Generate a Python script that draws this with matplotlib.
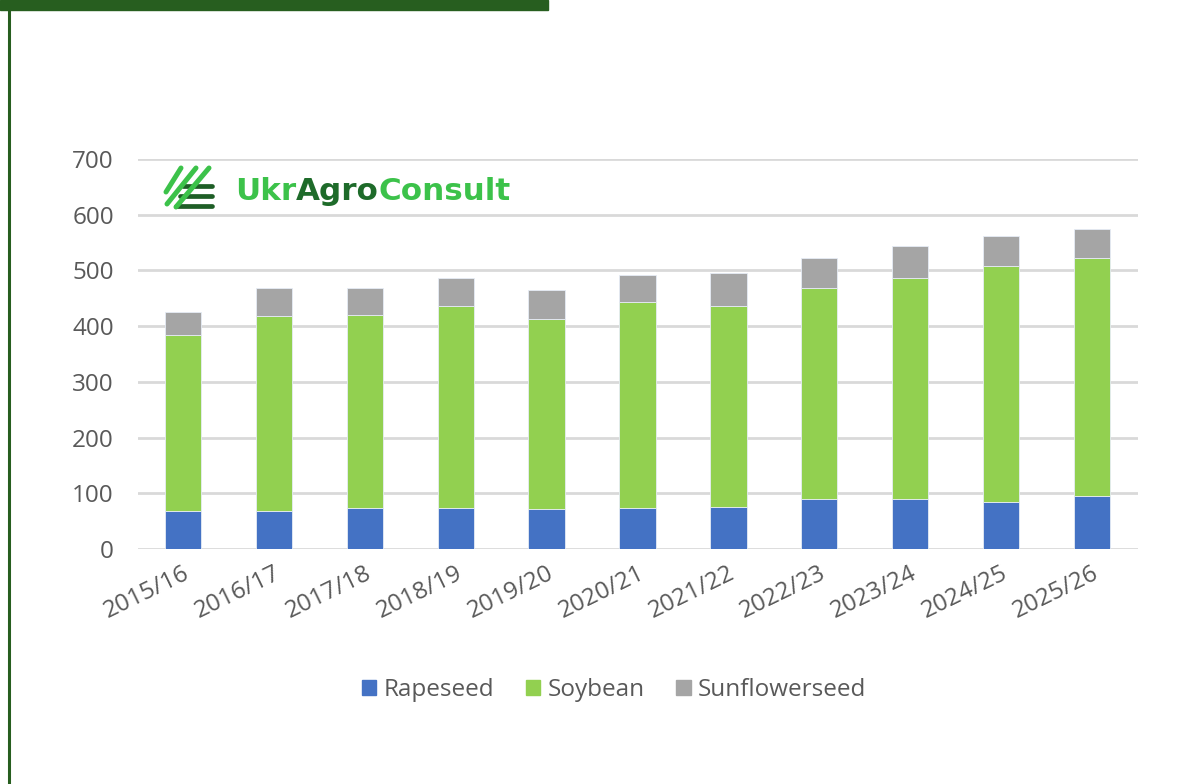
import matplotlib
matplotlib.use("Agg")
import matplotlib.pyplot as plt
from matplotlib.lines import Line2D
from matplotlib.patches import Rectangle
from matplotlib.font_manager import FontProperties
import numpy as np

categories = ["2015/16", "2016/17", "2017/18", "2018/19", "2019/20", "2020/21",
              "2021/22", "2022/23", "2023/24", "2024/25", "2025/26"]
rapeseed = [68, 68, 73, 73, 71, 73, 76, 90, 90, 84, 95]
soybean = [317, 351, 347, 363, 341, 371, 360, 378, 397, 424, 427]
sunflowerseed = [40, 50, 48, 50, 53, 48, 59, 54, 56, 54, 53]
series_names = ["Rapeseed", "Soybean", "Sunflowerseed"]
y_ticks = [0, 100, 200, 300, 400, 500, 600, 700]

W, H = 1196, 784
FONT = ["Open Sans", "DejaVu Sans"]
plt.rcParams["font.family"] = FONT
TXT = "#595959"
FS = 17.5

fig = plt.figure(figsize=(W / 100, H / 100), dpi=100)
fig.patch.set_facecolor("white")

def fx(x):
    return x / W

def fy(y):
    return 1 - y / H

ax = fig.add_axes([fx(137.5), fy(549), fx(1137.5) - fx(137.5), fy(159) - fy(549)])
x = np.arange(len(categories))
colors = ["#4472C4", "#92D050", "#A5A5A5"]
bottom = np.zeros(len(categories))
for vals, name, c in zip([rapeseed, soybean, sunflowerseed], series_names, colors):
    ax.bar(x, vals, width=0.4, bottom=bottom, color=c, label=name,
           edgecolor="#E6ECF5", linewidth=0.6, zorder=3)
    bottom = bottom + np.array(vals)

ax.set_xlim(-0.5, len(categories) - 0.5)
ax.set_ylim(0, 700)
ax.set_yticks(y_ticks)
ax.set_yticklabels([str(v) for v in y_ticks])
ax.yaxis.grid(True, color="#D9D9D9", linewidth=2.0, zorder=0)
ax.set_axisbelow(True)
for s in ax.spines.values():
    s.set_visible(False)
ax.tick_params(axis="both", length=0, labelsize=FS, labelcolor=TXT)
ax.tick_params(axis="y", pad=17)
ax.set_xticks(x)
ax.set_xticklabels(categories, rotation=26, ha="right", rotation_mode="anchor")
ax.tick_params(axis="x", pad=9)

handles = [Rectangle((0, 0), 1, 1, color=c) for c in colors]
leg = fig.legend(handles, series_names, loc="center",
                 bbox_to_anchor=(fx(614), fy(690)), ncol=3, frameon=False,
                 fontsize=FS, handlelength=0.6, handleheight=0.6,
                 handletextpad=0.3, columnspacing=1.3)
for t in leg.get_texts():
    t.set_color(TXT)

# frame decoration
fig.add_artist(Rectangle((fx(0), fy(9.5)), fx(548), 9.5 / H, transform=fig.transFigure,
                         color="#275E1F", zorder=10))
fig.add_artist(Line2D([fx(9), fx(9)], [fy(0), fy(784)], transform=fig.transFigure,
                      color="#275E1F", linewidth=2.2, zorder=10))

# logo icon
dark = "#1E5E26"
light = "#3CC24A"
for yy, x0 in [(186, 183), (196, 180), (206, 176)]:
    fig.add_artist(Line2D([fx(x0), fx(212)], [fy(yy), fy(yy)], transform=fig.transFigure,
                          color=dark, linewidth=3.4, solid_capstyle="round", zorder=5))
for (x1, y1, x2, y2) in [(166, 192, 181, 168), (167, 204, 196, 168), (176, 207, 209, 168)]:
    fig.add_artist(Line2D([fx(x1), fx(x2)], [fy(y1), fy(y2)], transform=fig.transFigure,
                          color=light, linewidth=3.6, solid_capstyle="round", zorder=6))

# logo text: measure right edges of prefixes, then place each part
fp = FontProperties(family="DejaVu Sans", weight="bold", size=22.3)
LX, LY = 235, 191
fig.canvas.draw()
renderer = fig.canvas.get_renderer()

def right_edge(s):
    t = fig.text(fx(LX), fy(LY), s, fontproperties=fp, va="center", ha="left")
    bb = t.get_window_extent(renderer=renderer)
    t.remove()
    return bb.x1

r_ukragro = right_edge("UkrAgro")
r_full = right_edge("UkrAgroConsult")
fig.text(fx(LX), fy(LY), "Ukr", color="#3CC24A", fontproperties=fp, va="center", ha="left")
fig.text(r_ukragro / W, fy(LY), "Agro", color="#1E6B2A", fontproperties=fp, va="center", ha="right")
fig.text(r_full / W, fy(LY), "Consult", color="#3CC24A", fontproperties=fp, va="center", ha="right")

fig.savefig("out.png", dpi=100)
